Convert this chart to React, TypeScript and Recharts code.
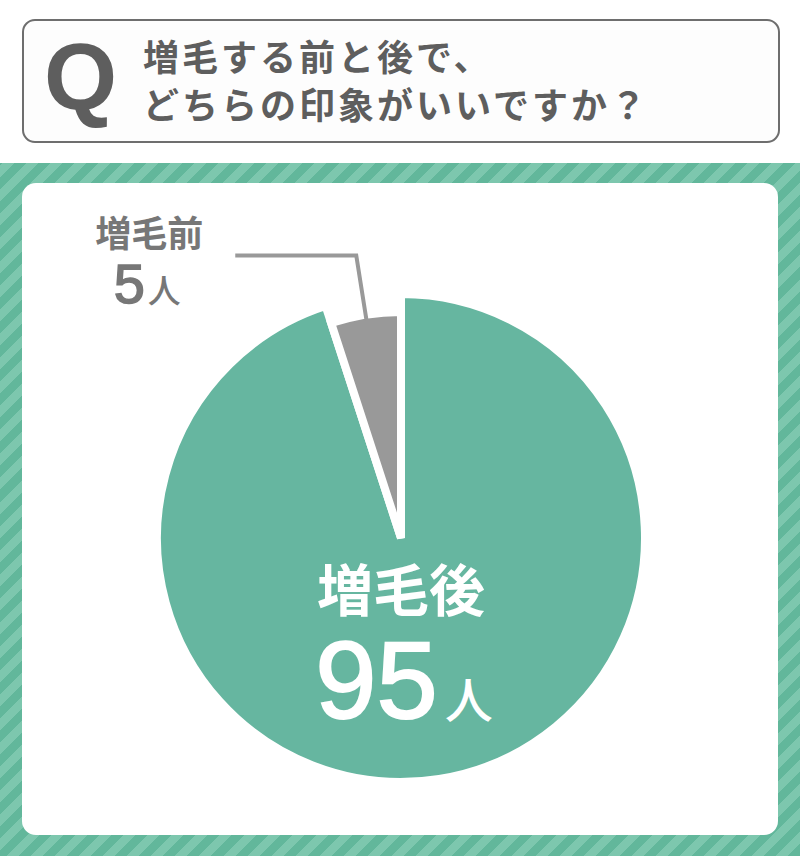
import React from "react";
import { PieChart, Pie, Cell } from "recharts";

const CATEGORIES = ["増毛後", "増毛前"];
const VALUES = [95, 5];
const UNIT = "人";
const QUESTION = ["増毛する前と後で、", "どちらの印象がいいですか？"];

const GREEN = "#66b6a0";
const GRAY = "#999999";
const TEXT_GRAY = "#5e5e5e";
const RADIAN = Math.PI / 180;

const data = CATEGORIES.map((name, i) => ({ name, value: VALUES[i] }));

const CJK = '"Noto Sans CJK JP", sans-serif';
const NUM = '"Liberation Sans", Arial, sans-serif';

// big label inside the green slice: name on one line, count below
function afterLabel(props: any) {
  const { cx, cy, index, value, name } = props;
  if (index !== 0) return null;
  return (
    <g>
      <text
        x={cx}
        y={cy + 73}
        textAnchor="middle"
        fill="#fff"
        fontFamily={CJK}
        fontWeight={700}
        fontSize={56}
      >
        {name}
      </text>
      <text x={cx + 3} y={cy + 180} textAnchor="middle" fill="#fff">
        <tspan
          fontFamily={NUM}
          fontWeight={400}
          fontSize={110}
          stroke="#fff"
          strokeWidth={2}
        >
          {value}
        </tspan>
        <tspan fontFamily={CJK} fontWeight={500} fontSize={48} dx={7}>
          {UNIT}
        </tspan>
      </text>
    </g>
  );
}

function beforeLabel(props: any) {
  const { cx, cy, index, value, name, midAngle, outerRadius } = props;
  if (index !== 1) return null;
  const cos = Math.cos(-midAngle * RADIAN);
  const sin = Math.sin(-midAngle * RADIAN);
  const r0 = outerRadius - 6;
  const r1 = outerRadius + 60;
  const sx = cx + r0 * cos;
  const sy = cy + r0 * sin;
  const mx = cx + r1 * cos;
  const my = cy + r1 * sin;
  const ex = mx - 121;
  const tx = ex - 86;
  return (
    <g>
      <polyline
        points={`${sx},${sy} ${mx},${my} ${ex},${my}`}
        fill="none"
        stroke={GRAY}
        strokeWidth={4}
      />
      <text
        x={tx}
        y={my - 9}
        textAnchor="middle"
        fill="#777"
        fontFamily={CJK}
        fontWeight={700}
        fontSize={36}
      >
        {name}
      </text>
      <text x={tx - 2} y={my + 47} textAnchor="middle" fill="#777">
        <tspan fontFamily={NUM} fontWeight={400} fontSize={56} stroke="#777" strokeWidth={1.5}>
          {value}
        </tspan>
        <tspan fontFamily={CJK} fontWeight={500} fontSize={33} dx={3}>
          {UNIT}
        </tspan>
      </text>
    </g>
  );
}

export default function App() {
  return (
    <div
      style={{
        position: "absolute",
        left: 0,
        top: 0,
        width: 800,
        height: 856,
        background: "#fff",
        overflow: "hidden",
      }}
    >
      {/* question box */}
      <div
        style={{
          position: "absolute",
          left: 22,
          top: 19,
          width: 754,
          height: 120,
          border: "2px solid #6e6e6e",
          borderRadius: 13,
          background: "#fdfdfd",
        }}
      />
      <div
        style={{
          position: "absolute",
          left: 44,
          top: 22,
          fontFamily: '"Liberation Sans", Arial, sans-serif',
          fontWeight: 700,
          fontSize: 94,
          lineHeight: "110px",
          color: TEXT_GRAY,
        }}
      >
        Q
      </div>
      {QUESTION.map((line, i) => (
        <div
          key={i}
          style={{
            position: "absolute",
            left: 143,
            top: 30 + i * 48,
            fontFamily: CJK,
            fontWeight: 700,
            fontSize: 36,
            lineHeight: "50px",
            letterSpacing: 3,
            color: TEXT_GRAY,
            whiteSpace: "nowrap",
          }}
        >
          {line}
        </div>
      ))}

      {/* striped frame */}
      <div
        style={{
          position: "absolute",
          left: 0,
          top: 163,
          width: 800,
          height: 693,
          background:
            "repeating-linear-gradient(-45deg, #62b79b 0px, #62b79b 8.5px, #7dc7ae 8.5px, #7dc7ae 17px)",
        }}
      />
      <div
        style={{
          position: "absolute",
          left: 22,
          top: 183,
          width: 756,
          height: 652,
          borderRadius: 14,
          background: "#fff",
        }}
      />

      <div style={{ position: "absolute", left: 0, top: 0 }}>
        <PieChart
          width={800}
          height={856}
          margin={{ top: 0, right: 0, bottom: 0, left: 0 }}
          style={{ outline: "none" }}
        >
          <Pie
            data={data}
            dataKey="value"
            nameKey="name"
            cx={401}
            cy={538}
            outerRadius={244}
            startAngle={90}
            endAngle={-270}
            stroke="#fff"
            strokeWidth={8}
            label={afterLabel}
            labelLine={false}
            isAnimationActive={false}
          >
            {data.map((_, i) => (
              <Cell
                key={i}
                fill={i === 0 ? GREEN : "none"}
                stroke={i === 0 ? "#fff" : "none"}
              />
            ))}
          </Pie>
          <Pie
            data={data}
            dataKey="value"
            nameKey="name"
            cx={401}
            cy={538}
            outerRadius={226}
            startAngle={90}
            endAngle={-270}
            stroke="#fff"
            strokeWidth={8}
            label={beforeLabel}
            labelLine={false}
            isAnimationActive={false}
          >
            {data.map((_, i) => (
              <Cell
                key={i}
                fill={i === 1 ? GRAY : "none"}
                stroke={i === 1 ? "#fff" : "none"}
              />
            ))}
          </Pie>
        </PieChart>
      </div>
    </div>
  );
}
